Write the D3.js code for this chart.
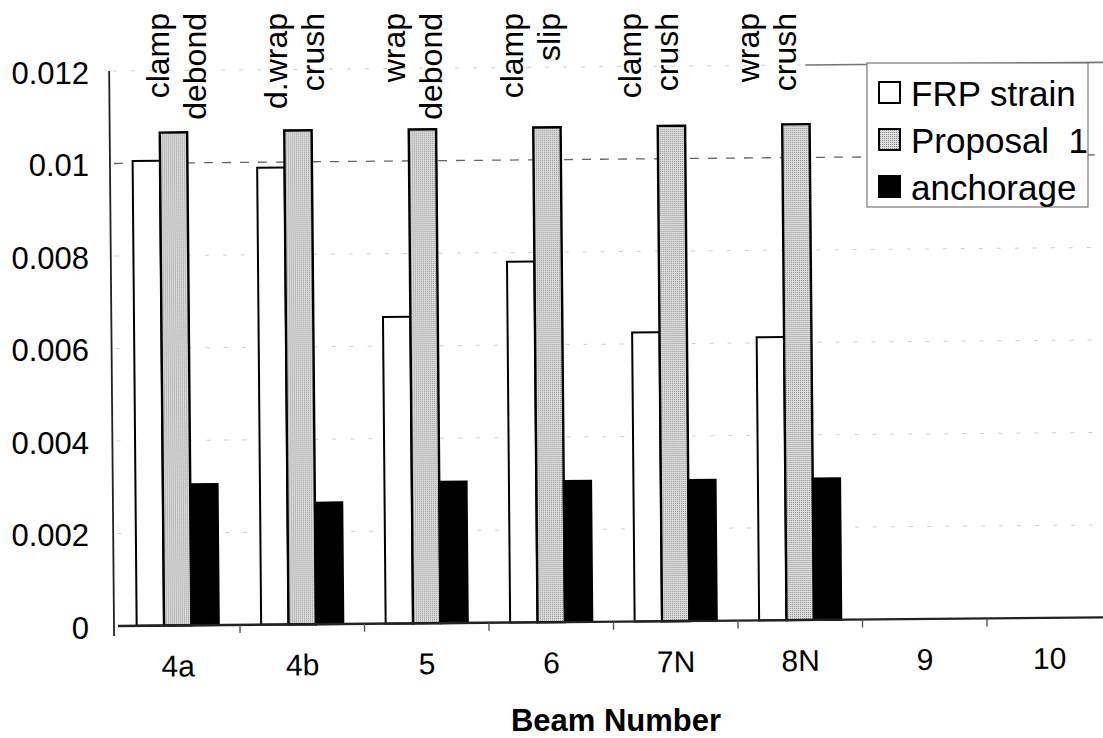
<!DOCTYPE html>
<html><head><meta charset="utf-8">
<script src="https://cdn.jsdelivr.net/npm/d3@7"></script>
<style>
body{margin:0;background:#fff}
text{font-family:"Liberation Sans",Arial,Helvetica,sans-serif;fill:#000}
</style>
</head><body>
<svg id="chart" width="1103" height="738"></svg>
<script>
// ---------- data ----------
const categories  = ["4a","4b","5","6","7N","8N","9","10"];
const frpStrain   = [0.01005,0.00988,0.00663,0.0078,0.00625,0.00612,null,null];
const proposal1   = [0.01066,0.01068,0.01068,0.0107,0.01071,0.01072,null,null];
const anchorage   = [0.00305,0.00263,0.00306,0.00305,0.00305,0.00306,null,null];
const modeLine1   = ["clamp","d.wrap","wrap","clamp","clamp","wrap"];
const modeLine2   = ["debond","crush","debond","slip","crush","crush"];
const yTicks      = [0,0.002,0.004,0.006,0.008,0.01,0.012];
const seriesNames = ["FRP strain","Proposal\u00a0 1","anchorage"];
const xTitle      = "Beam Number";

// ---------- setup ----------
const svg = d3.select("#chart");
const defs = svg.append("defs");
const pat = defs.append("pattern").attr("id","stip").attr("width",2).attr("height",2)
  .attr("patternUnits","userSpaceOnUse");
pat.append("rect").attr("width",2).attr("height",2).attr("fill","#dedede");
pat.append("rect").attr("width",1).attr("height",1).attr("fill","#8c8c8c");

const fills   = ["#ffffff","url(#stip)","#000000"];
const series  = [frpStrain, proposal1, anchorage];

const y = d3.scaleLinear().domain([0,0.012]).range([626,71]);
const x = d3.scaleBand().domain(categories).range([115.5,1111.5])
  .paddingInner(0.34).paddingOuter(0.17);
const xs = d3.scaleBand().domain(d3.range(series.length)).range([0,x.bandwidth()]);
const step = x.step();
const x0 = x.range()[0];

// plot group slightly rotated like the scanned original
const g = svg.append("g").attr("transform","rotate(-0.5,116,626)");

// gridlines
yTicks.filter(d=>d>0).forEach(t=>{
  g.append("line").attr("x1",118).attr("x2",1115).attr("y1",y(t)).attr("y2",y(t))
   .attr("stroke", t===0.01 ? "#666" : "#cfcfcf")
   .attr("stroke-width", t===0.01 ? 1.3 : 1)
   .attr("stroke-dasharray", t===0.01 ? "9,9" : "4,14");
});
// top frame fragment at 0.012
g.append("line").attr("x1",x0+step*5.58).attr("x2",1115).attr("y1",y(0.012)).attr("y2",y(0.012))
 .attr("stroke","#777").attr("stroke-width",1.6);

// bars
categories.forEach((c,i)=>{
  series.forEach((s,j)=>{
    const v = s[i];
    if (v==null) return;
    g.append("rect")
     .attr("x", x(c)+xs(j)).attr("width", xs.bandwidth())
     .attr("y", y(v)).attr("height", y(0)-y(v))
     .attr("fill", fills[j]).attr("stroke", "#000")
     .attr("stroke-width", j===1 ? 2.4 : 2);
  });
});

// y axis line
g.append("line").attr("x1",114).attr("x2",114).attr("y1",y(0.012)).attr("y2",y(0)+10)
 .attr("stroke","#222").attr("stroke-width",1.8);

// x axis line and boundary ticks
g.append("line").attr("x1",118).attr("x2",1115).attr("y1",y(0)).attr("y2",y(0))
 .attr("stroke","#222").attr("stroke-width",2.4);
d3.range(1,categories.length).forEach(k=>{
  const xx = x0 + k*step;
  g.append("line").attr("x1",xx).attr("x2",xx).attr("y1",y(0)).attr("y2",y(0)+8)
   .attr("stroke","#555").attr("stroke-width",1.4);
});

// x labels
g.selectAll(".xl").data(categories).enter().append("text")
 .attr("x", d=>x(d)+x.bandwidth()/2).attr("y",677)
 .attr("text-anchor","middle").attr("font-size",30).text(d=>d);

// y tick labels
svg.selectAll(".yl").data(yTicks).enter().append("text")
 .attr("x",89).attr("y",d=>y(d)+2).attr("dominant-baseline","central")
 .attr("text-anchor","end").attr("font-size",31).text(d=>d3.format("")(d));

// x title
svg.append("text").attr("x",616).attr("y",731).attr("text-anchor","middle")
 .attr("font-size",31).attr("font-weight","bold").text(xTitle);

// failure mode annotations (rotated)
const annCats = categories.slice(0, modeLine1.length);
const xa = d3.scalePoint().domain(annCats).range([176,766]);
annCats.forEach((c,i)=>{
  [[modeLine1[i],-18.5],[modeLine2[i],18.5]].forEach(([t,off])=>{
    const ax = xa(c)+off;
    svg.append("text").attr("transform",`translate(${ax},13) rotate(-90)`)
      .attr("text-anchor","end").attr("dominant-baseline","central")
      .attr("font-size",32).text(t);
  });
});

// legend
const lg = svg.append("g");
lg.append("rect").attr("x",867).attr("y",63).attr("width",221).attr("height",144)
  .attr("fill","#fff").attr("stroke","#777").attr("stroke-width",1.2);
seriesNames.forEach((n,j)=>{
  const cy = 93 + j*47;
  lg.append("rect").attr("x",879).attr("y",cy-11).attr("width",21).attr("height",21)
    .attr("fill",fills[j]).attr("stroke","#000").attr("stroke-width",2);
  lg.append("text").attr("x",911).attr("y",cy).attr("dominant-baseline","central")
    .attr("font-size",35).style("white-space","pre").text(n);
});
</script>
</body></html>
